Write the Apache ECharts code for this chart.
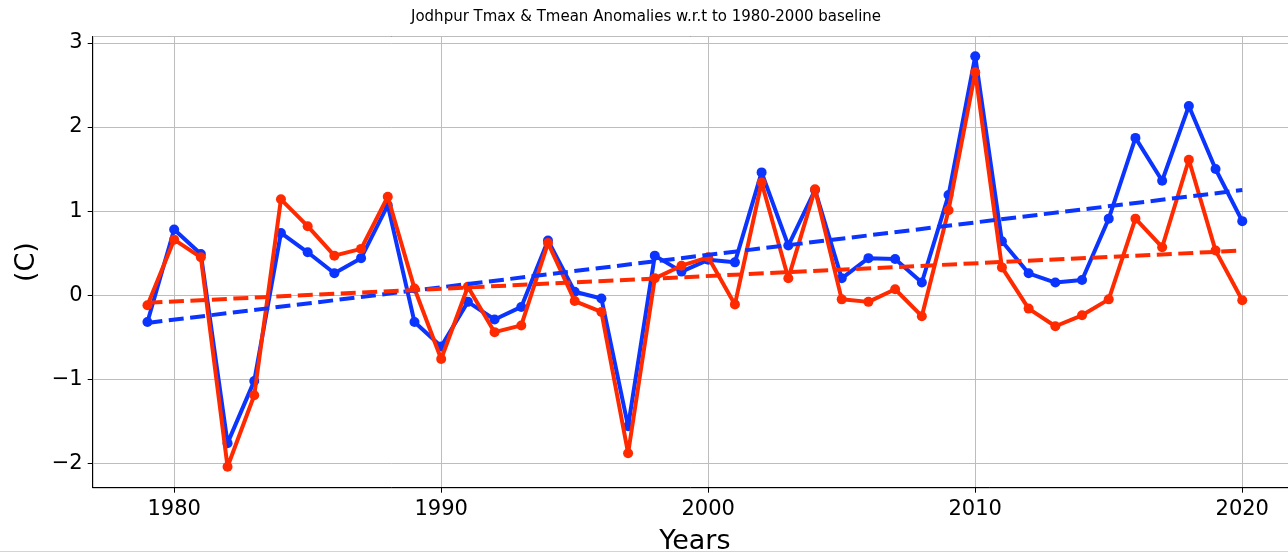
<!doctype html>
<html lang="en">
<head>
    <meta charset="utf-8">
    <title>Jodhpur Tmax & Tmean Anomalies</title>
    <script src="https://cdn.jsdelivr.net/npm/echarts@6/dist/echarts.min.js"></script>
    <style>
        html, body { margin: 0; padding: 0; background: #fff; }
        #main { width: 1288px; height: 554px; }
    </style>
</head>
<body>

<div id="main"></div>

<script>
    // years on the x axis
    var years = [1979, 1980, 1981, 1982, 1983, 1984, 1985, 1986, 1987, 1988,
        1989, 1990, 1991, 1992, 1993, 1994, 1995, 1996, 1997, 1998,
        1999, 2000, 2001, 2002, 2003, 2004, 2005, 2006, 2007, 2008,
        2009, 2010, 2011, 2012, 2013, 2014, 2015, 2016, 2017, 2018,
        2019, 2020];

    // Tmax anomaly (blue)
    var tmax = [-0.32, 0.78, 0.49, -1.76, -1.02, 0.74, 0.51, 0.26, 0.44, 1.07,
        -0.32, -0.61, -0.08, -0.29, -0.14, 0.65, 0.04, -0.04, -1.56, 0.47,
        0.28, 0.42, 0.39, 1.46, 0.59, 1.25, 0.20, 0.44, 0.43, 0.15,
        1.19, 2.84, 0.64, 0.26, 0.15, 0.18, 0.91, 1.87, 1.36, 2.25,
        1.50, 0.88];

    // Tmean anomaly (red)
    var tmean = [-0.12, 0.66, 0.45, -2.04, -1.19, 1.14, 0.82, 0.47, 0.55, 1.17,
        0.08, -0.76, 0.10, -0.44, -0.36, 0.62, -0.07, -0.20, -1.88, 0.20,
        0.35, 0.45, -0.11, 1.34, 0.20, 1.26, -0.05, -0.08, 0.07, -0.25,
        1.01, 2.65, 0.33, -0.16, -0.37, -0.24, -0.05, 0.91, 0.57, 1.61,
        0.53, -0.06];

    // trend line end points
    var trendYears = [1979, 2020];
    var trendTmax = [-0.33, 1.25];
    var trendTmean = [-0.09, 0.53];

    var blue = '#0b35ff';
    var red = '#ff2a00';

    function pairs(xs, ys) {
        var res = [];
        for (var i = 0; i < xs.length; i++) {
            res.push([xs[i], ys[i]]);
        }
        return res;
    }

    var font = 'DejaVu Sans';

    var myChart = echarts.init(document.getElementById('main'), null, {renderer: 'canvas'});

    var option = {
        animation: false,
        backgroundColor: '#fff',
        title: {
            text: 'Jodhpur Tmax & Tmean Anomalies w.r.t to 1980-2000 baseline',
            left: 411,
            top: 10,
            padding: 0,
            textStyle: {
                fontFamily: font,
                fontSize: 15,
                fontWeight: 'normal',
                color: '#000'
            }
        },
        // plot box runs past the right edge of the picture
        grid: {
            left: 92.7,
            top: 36.5,
            bottom: 66.3,
            right: -9,
            outerBoundsMode: 'none',
            containLabel: false,
            show: true,
            borderColor: '#000',
            borderWidth: 1
        },
        xAxis: {
            type: 'value',
            min: 1976.95,
            max: 2022.05,
            splitNumber: 5,
            name: 'Years',
            nameLocation: 'middle',
            nameGap: 41,
            nameTextStyle: {fontFamily: font, fontSize: 27, color: '#000'},
            axisLine: {show: true, onZero: false, lineStyle: {color: '#000', width: 1}},
            axisTick: {show: true, length: 5, lineStyle: {color: '#000'}},
            axisLabel: {
                margin: 11,
                showMinLabel: false,
                showMaxLabel: false,
                fontFamily: font,
                fontSize: 21,
                color: '#000',
                formatter: function (v) { return String(Math.round(v)); }
            },
            splitLine: {show: true, lineStyle: {color: '#bdbdbd', width: 1}}
        },
        yAxis: {
            type: 'value',
            min: -2.29,
            max: 3.076,
            splitNumber: 5,
            name: '(C)',
            nameLocation: 'middle',
            nameGap: 50,
            nameTextStyle: {fontFamily: font, fontSize: 27, color: '#000'},
            axisLine: {show: true, onZero: false, lineStyle: {color: '#000', width: 1}},
            axisTick: {show: true, length: 5, lineStyle: {color: '#000'}},
            axisLabel: {
                margin: 10,
                showMinLabel: false,
                showMaxLabel: false,
                fontFamily: font,
                fontSize: 21,
                color: '#000',
                formatter: function (v) {
                    var r = Math.round(v);
                    return r < 0 ? '\u2212' + Math.abs(r) : String(r);
                }
            },
            splitLine: {show: true, lineStyle: {color: '#bdbdbd', width: 1}}
        },
        graphic: [{
            type: 'line',
            shape: {x1: 0, y1: 551.5, x2: 1288, y2: 551.5},
            style: {stroke: '#d4d4d4', lineWidth: 1},
            silent: true
        }],
        series: [
            {
                name: 'Tmax',
                type: 'line',
                data: pairs(years, tmax),
                symbol: 'circle',
                symbolSize: 10,
                showAllSymbol: true,
                lineStyle: {color: blue, width: 4},
                itemStyle: {color: blue},
                z: 2
            },
            {
                name: 'Tmean',
                type: 'line',
                data: pairs(years, tmean),
                symbol: 'circle',
                symbolSize: 10,
                showAllSymbol: true,
                lineStyle: {color: red, width: 4},
                itemStyle: {color: red},
                z: 3
            },
            {
                name: 'Tmax trend',
                type: 'line',
                data: pairs(trendYears, trendTmax),
                symbol: 'none',
                lineStyle: {color: blue, width: 4, type: [15, 6.5]},
                z: 4
            },
            {
                name: 'Tmean trend',
                type: 'line',
                data: pairs(trendYears, trendTmean),
                symbol: 'none',
                lineStyle: {color: red, width: 4, type: [15, 6.5]},
                z: 5
            }
        ]
    };

    myChart.setOption(option);
</script>
</body>
</html>
